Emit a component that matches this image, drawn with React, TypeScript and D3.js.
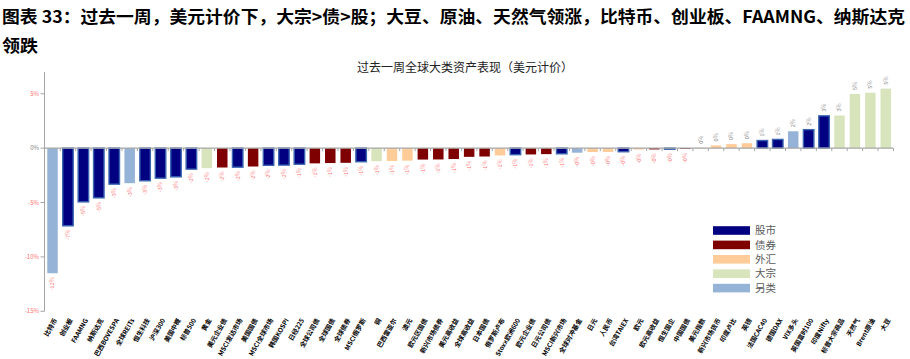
import React from "react";
import * as d3 from "d3";

const categories = [
  "比特币", "创业板", "FAAMNG", "纳斯达克", "巴西BOVESPA", "全球REITs", "恒生科技", "沪深300", "美国中概", "标普500",
  "黄金", "美元企业债", "MSCI发达市场", "美国国债", "MSCI全球市场", "韩国KOSPI", "日经225", "全球公司债", "全球国债", "全球债券",
  "MSCI俄罗斯", "铜", "巴西雷亚尔", "澳元", "欧元区国债", "新兴市场债券", "美元高收益", "全球高收益", "日本国债", "俄罗斯卢布",
  "Stoxx欧洲600", "欧元企业债", "日元公司债", "MSCI新兴市场", "全球对冲基金", "日元", "人民币", "台湾TAIEX", "欧元", "欧元高收益",
  "恒生国企", "中国国债", "美元指数", "新兴市场货币", "印度卢比", "英镑", "法国CAC40", "德国DAX", "VIX多头", "英国富时100",
  "印度Nifty", "标普大宗商品", "天然气", "Brent原油", "大豆",
];

const values = [
  -11.5, -7.14, -4.94, -4.57, -3.31, -3.22, -3.0, -2.76, -2.64, -1.93,
  -1.84, -1.78, -1.75, -1.69, -1.58, -1.56, -1.48, -1.4, -1.37, -1.35,
  -1.25, -1.2, -1.18, -1.15, -1.05, -1.04, -1.0, -0.8, -0.77, -0.67,
  -0.6, -0.58, -0.55, -0.52, -0.42, -0.36, -0.35, -0.33, -0.13, -0.12,
  -0.1, -0.08, 0.03, 0.25, 0.37, 0.45, 0.7, 0.8, 1.55, 1.7,
  2.97, 3.0, 4.98, 5.1, 5.47,
];

const groups = [
  "另类", "股市", "股市", "股市", "股市", "另类", "股市", "股市", "股市", "股市",
  "大宗", "债券", "股市", "债券", "股市", "股市", "股市", "债券", "债券", "债券",
  "股市", "大宗", "外汇", "外汇", "债券", "债券", "债券", "债券", "债券", "外汇",
  "股市", "债券", "债券", "股市", "另类", "外汇", "外汇", "股市", "外汇", "债券",
  "股市", "债券", "外汇", "外汇", "外汇", "外汇", "股市", "股市", "另类", "股市",
  "股市", "大宗", "大宗", "大宗", "大宗",
];

const legendGroups = ["股市", "债券", "外汇", "大宗", "另类"];
const yTicks = [-15, -10, -5, 0, 5];

const titleLine1 = "图表 33：过去一周，美元计价下，大宗>债>股；大豆、原油、天然气领涨，比特币、创业板、FAAMNG、纳斯达克";
const titleLine2 = "领跌";
const chartTitle = "过去一周全球大类资产表现（美元计价）";

const fills: Record<string, string> = {
  股市: "#000080",
  债券: "#7F0000",
  外汇: "#FFCC99",
  大宗: "#D8E4BC",
  另类: "#95B3D7",
};

const font = "'Noto Sans CJK SC', 'Noto Sans', sans-serif";

function fmt(v: number) {
  if (v < 0) return "-" + Math.round(Math.abs(v)) + "%";
  return Math.round(v) + "%";
}

export default function App() {
  const W = 910;
  const H = 359;
  const y = d3.scaleLinear().domain([-15, 7]).range([311.3, 72]);
  const x = d3
    .scaleBand<string>()
    .domain(categories)
    .range([44.8, 893.5])
    .paddingInner(0.32)
    .paddingOuter(0.16);
  const step = x.step();
  const y0 = y(0);
  const axisX = 44.5;

  return (
    <svg
      width={W}
      height={H}
      style={{ position: "absolute", left: 0, top: 0, background: "#fff" }}
      fontFamily={font}
    >
      <text
        x={2}
        y={23}
        fontSize={17}
        fontWeight="bold"
        fill="#000"
        textLength={903}
        lengthAdjust="spacingAndGlyphs"
      >
        {titleLine1}
      </text>
      <text x={2} y={52} fontSize={17} fontWeight="bold" fill="#000" textLength={36} lengthAdjust="spacingAndGlyphs">
        {titleLine2}
      </text>
      <text x={465} y={72} fontSize={12} fill="#222" textAnchor="middle">
        {chartTitle}
      </text>

      {/* y axis */}
      <line x1={axisX} x2={axisX} y1={72} y2={y(-15)} stroke="#A6A6A6" strokeWidth={1} />
      {yTicks.map((t) => (
        <g key={t}>
          <line x1={axisX - 4} x2={axisX} y1={y(t)} y2={y(t)} stroke="#A6A6A6" strokeWidth={1} />
          <text
            x={39}
            y={y(t)}
            dy="0.35em"
            fontSize={6}
            textAnchor="end"
            fill={t === 0 ? "#7F7F7F" : "#FF6F6F"}
          >
            {t + "%"}
          </text>
        </g>
      ))}

      {/* bars */}
      {categories.map((c, i) => {
        const v = values[i];
        const g = groups[i];
        const bx = x(c) as number;
        const bw = x.bandwidth();
        const top = Math.min(y(v), y0);
        const h = Math.abs(y(v) - y0);
        const isStock = g === "股市";
        return (
          <rect
            key={c}
            x={bx}
            y={top}
            width={bw}
            height={h}
            fill={fills[g]}
            stroke={isStock ? "#3A64B0" : "none"}
            strokeWidth={isStock ? 1.4 : 0}
          />
        );
      })}

      {/* zero axis */}
      <line x1={axisX} x2={893.5} y1={y0} y2={y0} stroke="#A6A6A6" strokeWidth={1.2} />
      {categories.map((c) => {
        const tx = (x(c) as number) - (step * 0.32) / 2 + step;
        return <line key={"t" + c} x1={tx} x2={tx} y1={y0} y2={y0 + 3} stroke="#A6A6A6" strokeWidth={1} />;
      })}

      {/* data labels */}
      {categories.map((c, i) => {
        const v = values[i];
        const cx = (x(c) as number) + x.bandwidth() / 2;
        const neg = v < 0;
        const ay = neg ? y(v) + 4 : y(v) - 4;
        return (
          <text
            key={"d" + c}
            transform={`translate(${cx},${ay}) rotate(-90)`}
            dy="0.35em"
            fontSize={5.5}
            textAnchor={neg ? "end" : "start"}
            fill={neg ? "#FF6F6F" : "#7F7F7F"}
          >
            {fmt(v)}
          </text>
        );
      })}

      {/* x labels */}
      {categories.map((c) => {
        const cx = (x(c) as number) + x.bandwidth() / 2;
        return (
          <text
            key={"x" + c}
            transform={`translate(${cx + 3},${319}) rotate(-60)`}
            dy="0.35em"
            fontSize={6.5}
            fontWeight={600}
            textAnchor="end"
            fill="#000"
          >
            {c}
          </text>
        );
      })}

      {/* legend */}
      {legendGroups.map((g, i) => {
        const cy = 230.5 + i * 14.4;
        return (
          <g key={"l" + g}>
            <rect x={713} y={cy - 4.3} width={37} height={8.6} fill={fills[g]} />
            <text x={755} y={cy} dy="0.35em" fontSize={10.5} fill="#595959">
              {g}
            </text>
          </g>
        );
      })}
    </svg>
  );
}
